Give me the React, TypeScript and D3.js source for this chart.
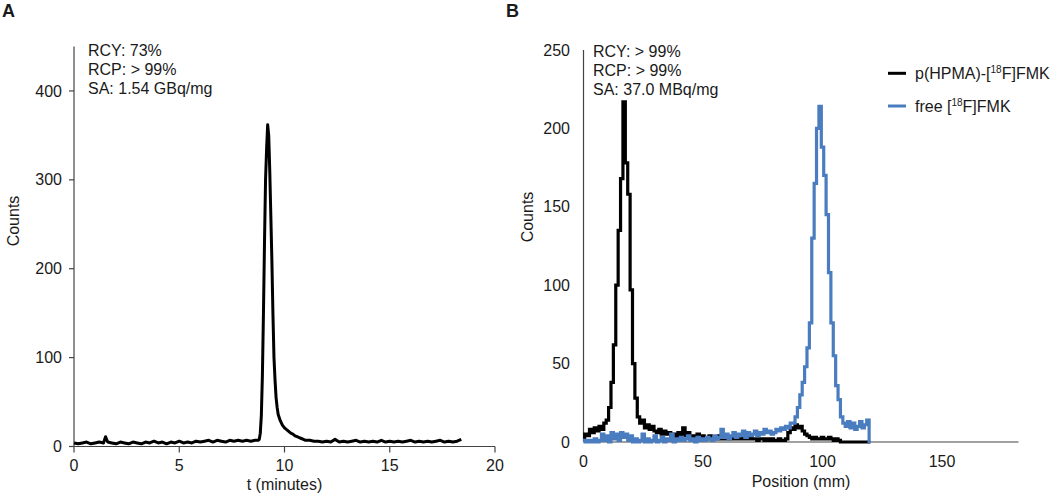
import React from "react";
import * as d3 from "d3";

// ---------- Panel A: radio-HPLC (counts vs time) ----------
const timeA = [
  0, 0.2, 0.4, 0.6, 0.8, 1.0, 1.2, 1.4, 1.5, 1.6, 1.8, 2.0, 2.2, 2.4, 2.6, 2.8, 3.0, 3.2, 3.4, 3.6,
  3.8, 4.0, 4.2, 4.4, 4.6, 4.8, 5.0, 5.2, 5.4, 5.6, 5.8, 6.0, 6.2, 6.4, 6.6, 6.8, 7.0, 7.2, 7.4, 7.6,
  7.8, 8.0, 8.2, 8.4, 8.6, 8.75,
  8.8, 8.85, 8.9, 8.95, 9.0, 9.05, 9.1, 9.15, 9.2, 9.25, 9.3, 9.35, 9.4, 9.45, 9.5, 9.55, 9.6, 9.65,
  9.7, 9.8, 9.9, 10.0, 10.1, 10.2, 10.3, 10.4, 10.5, 10.6, 10.7, 10.8, 10.9, 11.0, 11.2, 11.4,
  11.6, 11.8, 12.0, 12.2, 12.4, 12.6, 12.8, 13.0, 13.2, 13.4, 13.6, 13.8, 14.0, 14.2, 14.4, 14.6,
  14.8, 15.0, 15.2, 15.4, 15.6, 15.8, 16.0, 16.2, 16.4, 16.6, 16.8, 17.0, 17.2, 17.4, 17.6, 17.8,
  18.0, 18.2, 18.4,
];
const countsA = [
  4, 3, 4, 5, 3, 4, 5, 4, 11, 5, 4, 3, 5, 4, 3, 5, 4, 3, 5, 4,
  6, 4, 5, 3, 5, 4, 6, 4, 5, 4, 6, 5, 6, 7, 5, 7, 6, 5, 7, 6,
  7, 6, 7, 6, 7, 7,
  8, 15, 35, 80, 150, 230, 300, 335, 362, 350, 310, 260, 210, 150, 100, 75, 55, 44,
  36, 29, 24, 21, 19, 17, 15, 14, 12, 11, 10, 9, 8, 7, 7, 6,
  6, 5, 6, 5, 8, 5, 6, 5, 6, 7, 5, 6, 5, 6, 5, 7,
  5, 6, 5, 6, 5, 6, 7, 5, 6, 5, 6, 5, 6, 7, 5, 6,
  5, 6, 8,
];
const ticksAX = [0, 5, 10, 15, 20];
const ticksAY = [0, 100, 200, 300, 400];
const annotA = ["RCY: 73%", "RCP: > 99%", "SA: 1.54 GBq/mg"];

// ---------- Panel B: radio-TLC (counts vs position) ----------
const positionB = d3.range(0, 121); // mm, 1 mm bins
const countsHPMA = [
  2, 5, 4, 8, 6, 9, 7, 10, 8, 12,
  14, 22, 38, 62, 100, 135, 168, 217, 178, 158,
  97, 50, 28, 16, 12, 14, 9, 11, 8, 10,
  7, 6, 8, 5, 7, 5, 6, 4, 5, 3,
  6, 4, 9, 4, 6, 3, 4, 3, 5, 2,
  4, 3, 2, 4, 2, 3, 2, 4, 2, 3,
  2, 3, 2, 2, 3, 2, 2, 3, 2, 2,
  3, 2, 2, 1, 2, 2, 1, 2, 1, 2,
  1, 1, 2, 1, 1, 2, 6, 9, 8, 11,
  9, 10, 7, 5, 4, 3, 2, 3, 2, 2,
  3, 2, 2, 3, 2, 1, 2, 1, 0, 0,
  0, 0, 0, 0, 0, 0, 0, 0, 0, 0, 0,
];
const countsFree = [
  0, 1, 0, 1, 0, 2, 0, 1, 5, 1,
  4, 0, 6, 2, 5, 1, 6, 3, 5, 1,
  4, 0, 2, 0, 1, 5, 0, 2, 0, 1,
  4, 0, 1, 3, 0, 2, 1, 5, 0, 2,
  1, 3, 1, 2, 4, 1, 2, 0, 3, 1,
  2, 1, 3, 2, 1, 4, 2, 3, 8, 3,
  5, 2, 4, 6, 3, 5, 4, 7, 3, 6,
  4, 5, 7, 4, 6, 5, 8, 6, 7, 5,
  6, 8, 7, 9, 8, 10, 9, 12, 12, 16,
  22, 30, 38, 48, 60, 76, 130, 165, 200, 214,
  188, 170, 145, 108, 76, 55, 36, 27, 16, 12,
  10, 13, 9, 12, 8, 10, 13, 9, 11, 14, 0,
];
const ticksBX = [0, 50, 100, 150];
const ticksBY = [0, 50, 100, 150, 200, 250];
const annotB = ["RCY: > 99%", "RCP: > 99%", "SA: 37.0 MBq/mg"];
const seriesNames = ["p(HPMA)-[", "free ["];
const colorHPMA = "#000000";
const colorFree = "#4a7dc0";

const FONT = "'Liberation Sans', Arial, sans-serif";
const TXT = "#1a1a1a";
const AXIS = "#444";

export default function App() {
  const xA = d3.scaleLinear().domain([0, 20]).range([74, 495]);
  const yA = d3.scaleLinear().domain([0, 450]).range([446.5, 46.5]);
  const xB = d3.scaleLinear().domain([0, 182]).range([583.5, 1018.5]);
  const yB = d3.scaleLinear().domain([0, 250]).range([442, 50]);

  const dataA = timeA.map((t, i) => [t, countsA[i]] as [number, number]);
  const lineA = d3
    .line<[number, number]>()
    .x((d) => xA(d[0]))
    .y((d) => yA(d[1]))
    .curve(d3.curveLinear);

  const lineB = d3
    .line<[number, number]>()
    .x((d) => xB(d[0]))
    .y((d) => yB(d[1]))
    .curve(d3.curveStep);
  const dataHPMA = positionB.map((p, i) => [p, countsHPMA[i]] as [number, number]);
  const dataFree = positionB.map((p, i) => [p, countsFree[i]] as [number, number]);

  const txt = { fontFamily: FONT, fontSize: 16, fill: TXT } as const;

  return (
    <svg
      width={1050}
      height={498}
      style={{ position: "absolute", left: 0, top: 0, background: "#fff" }}
    >
      <rect x={0} y={0} width={1050} height={498} fill="#fff" />

      {/* ================= Panel A ================= */}
      <text x={2} y={17} style={{ ...txt, fontSize: 18, fontWeight: 700 }}>A</text>

      <line x1={xA(0)} x2={xA(0)} y1={yA(450)} y2={yA(0)} stroke={AXIS} strokeWidth={1.2} />
      {ticksAY.map((v) => (
        <g key={"ay" + v}>
          <line x1={xA(0) - 5} x2={xA(0)} y1={yA(v)} y2={yA(v)} stroke={AXIS} strokeWidth={1.2} />
          <text x={62} y={yA(v)} dy="0.35em" textAnchor="end" style={txt}>{v}</text>
        </g>
      ))}
      <line x1={xA(0)} x2={xA(20)} y1={yA(0)} y2={yA(0)} stroke={AXIS} strokeWidth={1.2} />
      {ticksAX.map((v) => (
        <g key={"ax" + v}>
          <line x1={xA(v)} x2={xA(v)} y1={yA(0)} y2={yA(0) + 6} stroke={AXIS} strokeWidth={1.2} />
          <text x={xA(v)} y={470.5} textAnchor="middle" style={txt}>{v}</text>
        </g>
      ))}
      <text x={(xA(0) + xA(20)) / 2} y={490} textAnchor="middle" style={txt}>t (minutes)</text>
      <text transform={`translate(13,221) rotate(-90)`} textAnchor="middle" dy="0.35em" style={txt}>
        Counts
      </text>

      <path d={lineA(dataA) || ""} fill="none" stroke="#000" strokeWidth={3} strokeLinejoin="round" />

      {annotA.map((s, i) => (
        <text key={"aa" + i} x={88} y={56 + i * 19.2} style={txt}>{s}</text>
      ))}

      {/* ================= Panel B ================= */}
      <text x={506} y={17} style={{ ...txt, fontSize: 18, fontWeight: 700 }}>B</text>

      <line x1={xB(0)} x2={xB(0)} y1={yB(250)} y2={yB(0)} stroke={AXIS} strokeWidth={1.2} />
      {ticksBY.map((v) => (
        <text key={"by" + v} x={570} y={yB(v)} dy="0.35em" textAnchor="end" style={txt}>{v}</text>
      ))}
      <line x1={xB(0)} x2={xB(182)} y1={yB(0)} y2={yB(0)} stroke={AXIS} strokeWidth={1.2} />
      {ticksBX.map((v) => (
        <text key={"bx" + v} x={xB(v)} y={467} textAnchor="middle" style={txt}>{v}</text>
      ))}
      <text x={(xB(0) + xB(182)) / 2} y={486.5} textAnchor="middle" style={txt}>Position (mm)</text>
      <text transform={`translate(527,217) rotate(-90)`} textAnchor="middle" dy="0.35em" style={txt}>
        Counts
      </text>

      <path d={lineB(dataHPMA) || ""} fill="none" stroke={colorHPMA} strokeWidth={3.2} />
      <path d={lineB(dataFree) || ""} fill="none" stroke={colorFree} strokeWidth={3.2} />

      {annotB.map((s, i) => (
        <text key={"ba" + i} x={593} y={57 + i * 19} style={txt}>{s}</text>
      ))}

      {/* legend */}
      {[colorHPMA, colorFree].map((c, i) => (
        <g key={"lg" + i}>
          <line x1={888} x2={906} y1={73.3 + i * 32.7} y2={73.3 + i * 32.7} stroke={c} strokeWidth={3} />
          <text x={915} y={73.3 + i * 32.7} dy="0.35em" style={txt}>
            {seriesNames[i]}
            <tspan fontSize={10} dy={-6}>18</tspan>
            <tspan dy={6}>F]FMK</tspan>
          </text>
        </g>
      ))}
    </svg>
  );
}
